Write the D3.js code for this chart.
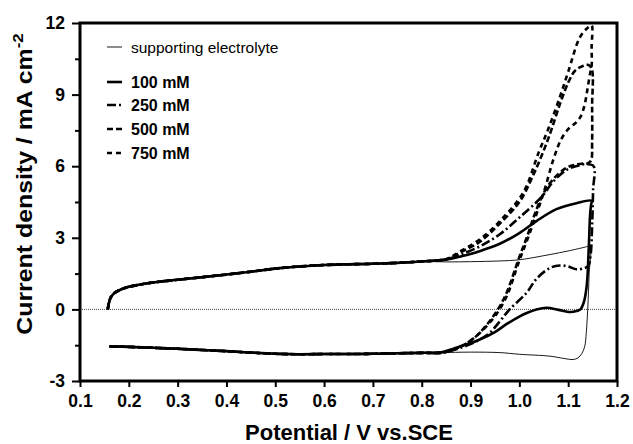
<!DOCTYPE html>
<html>
<head>
<meta charset="utf-8">
<script src="https://cdn.jsdelivr.net/npm/d3@7"></script>
<style>
  html, body { margin: 0; padding: 0; background: #fff; }
  svg { display: block; }
  text { font-family: Arial, "Liberation Sans", Helvetica, sans-serif; fill: #000; }
</style>
</head>
<body>
<svg id="chart" width="633" height="444"></svg>
<script>
// ---------------- DATA ----------------
const xTicks = [0.1, 0.2, 0.3, 0.4, 0.5, 0.6, 0.7, 0.8, 0.9, 1.0, 1.1, 1.2];
const yTicks = [-3, 0, 3, 6, 9, 12];
const yMinorTicks = [-1.5, 1.5, 4.5, 7.5, 10.5];
const seriesNames = ["supporting electrolyte", "100 mM", "250 mM", "500 mM", "750 mM"];

// common anodic (forward) baseline, 0.157 -> 0.80 V
const baseFwdV = [0.157, 0.159, 0.163, 0.170, 0.180, 0.195, 0.22, 0.25, 0.30, 0.35, 0.40, 0.45, 0.50, 0.55, 0.60, 0.65, 0.70, 0.75, 0.80];
const baseFwdJ = [0.00, 0.25, 0.50, 0.68, 0.80, 0.92, 1.03, 1.13, 1.24, 1.35, 1.46, 1.58, 1.71, 1.80, 1.86, 1.89, 1.91, 1.95, 2.01];
// common cathodic (reverse) baseline, 0.80 -> 0.16 V
const baseRevV = [0.80, 0.75, 0.70, 0.65, 0.60, 0.55, 0.50, 0.45, 0.40, 0.35, 0.30, 0.25, 0.20, 0.16];
const baseRevJ = [-1.82, -1.84, -1.86, -1.87, -1.87, -1.88, -1.86, -1.81, -1.75, -1.70, -1.65, -1.61, -1.57, -1.55];

// supporting electrolyte
const seFwdV = [0.85, 0.90, 0.96, 1.00, 1.063, 1.10, 1.138, 1.145];
const seFwdJ = [1.99, 2.00, 2.03, 2.08, 2.30, 2.45, 2.63, 2.68];
const seRevV = [1.143, 1.140, 1.137, 1.134, 1.128, 1.120, 1.110, 1.090, 1.063, 1.00, 0.96, 0.90, 0.84];
const seRevJ = [1.50, 0.00, -1.00, -1.54, -1.85, -2.03, -2.10, -2.05, -1.96, -1.88, -1.81, -1.79, -1.81];

// 100 mM
const c100FwdV = [0.85, 0.88, 0.90, 0.92, 0.96, 1.00, 1.035, 1.076, 1.117, 1.148];
const c100FwdJ = [2.09, 2.22, 2.32, 2.45, 2.75, 3.20, 3.70, 4.20, 4.45, 4.55];
const c100RevV = [1.147, 1.145, 1.142, 1.138, 1.132, 1.125, 1.117, 1.104, 1.08, 1.056, 1.035, 1.015, 1.00, 0.975, 0.95, 0.92, 0.90, 0.878, 0.86, 0.84];
const c100RevJ = [4.40, 4.00, 2.50, 1.00, 0.30, 0.00, -0.07, -0.11, -0.02, 0.07, 0.00, -0.15, -0.30, -0.60, -0.95, -1.25, -1.42, -1.55, -1.68, -1.80];

// 250 mM
const c250FwdV = [0.85, 0.88, 0.92, 0.96, 1.00, 1.045, 1.069, 1.097, 1.12, 1.135, 1.152];
const c250FwdJ = [2.10, 2.30, 2.65, 3.15, 3.85, 4.70, 5.35, 5.85, 6.02, 6.08, 6.00];
const c250RevV = [1.151, 1.149, 1.146, 1.141, 1.131, 1.117, 1.10, 1.083, 1.063, 1.035, 1.015, 0.98, 0.96, 0.94, 0.92, 0.90, 0.878, 0.86, 0.84];
const c250RevJ = [5.00, 3.50, 2.30, 1.82, 1.72, 1.68, 1.80, 1.84, 1.74, 1.28, 0.70, 0.00, -0.50, -0.97, -1.25, -1.45, -1.62, -1.73, -1.82];

// 500 mM
const c500FwdV = [0.85, 0.88, 0.92, 0.96, 1.00, 1.03, 1.06, 1.083, 1.10, 1.114, 1.13, 1.14, 1.148];
const c500FwdJ = [2.10, 2.40, 2.85, 3.60, 4.50, 5.70, 7.20, 8.60, 9.50, 10.00, 10.20, 10.25, 10.10];
const c500RevV = [1.149, 1.149, 1.147, 1.140, 1.134, 1.117, 1.097, 1.069, 1.048, 1.03, 1.015, 1.00, 0.974, 0.956, 0.935, 0.913, 0.89, 0.87, 0.845];
const c500RevJ = [8.50, 7.00, 6.25, 6.12, 6.12, 6.07, 5.94, 5.45, 4.80, 3.90, 3.00, 2.20, 0.70, 0.00, -0.60, -1.10, -1.45, -1.65, -1.80];

// 750 mM
const c750FwdV = [0.85, 0.88, 0.92, 0.96, 1.008, 1.04, 1.06, 1.083, 1.10, 1.124, 1.14, 1.148];
const c750FwdJ = [2.10, 2.45, 2.95, 3.70, 4.90, 6.60, 7.60, 8.90, 9.95, 11.40, 11.80, 11.90];
const c750RevV = [1.148, 1.148, 1.145, 1.140, 1.134, 1.126, 1.117, 1.10, 1.085, 1.07, 1.05, 1.03, 1.015, 1.00, 0.974, 0.953, 0.935, 0.913, 0.89, 0.87, 0.845];
const c750RevJ = [11.00, 10.20, 9.90, 9.30, 8.60, 8.10, 7.85, 7.55, 7.10, 6.30, 4.90, 3.70, 2.85, 2.05, 0.55, -0.20, -0.65, -1.10, -1.45, -1.65, -1.80];

// ---------------- BUILD ----------------
function loop(fV, fJ, rV, rJ) {
  const pts = [];
  baseFwdV.forEach((v, i) => pts.push([v, baseFwdJ[i]]));
  fV.forEach((v, i) => pts.push([v, fJ[i]]));
  rV.forEach((v, i) => pts.push([v, rJ[i]]));
  baseRevV.forEach((v, i) => pts.push([v, baseRevJ[i]]));
  return pts;
}

const series = [
  { name: seriesNames[0], pts: loop(seFwdV, seFwdJ, seRevV, seRevJ), w: 0.9, dash: null },
  { name: seriesNames[1], pts: loop(c100FwdV, c100FwdJ, c100RevV, c100RevJ), w: 2.6, dash: null },
  { name: seriesNames[2], pts: loop(c250FwdV, c250FwdJ, c250RevV, c250RevJ), w: 2.6, dash: "9,3,2,3" },
  { name: seriesNames[3], pts: loop(c500FwdV, c500FwdJ, c500RevV, c500RevJ), w: 2.6, dash: "6,3" },
  { name: seriesNames[4], pts: loop(c750FwdV, c750FwdJ, c750RevV, c750RevJ), w: 2.6, dash: "5,4" }
];

const svg = d3.select("#chart");
const X0 = 80, X1 = 617, Y0 = 23, Y1 = 381;
const x = d3.scaleLinear().domain([0.1, 1.2]).range([X0, X1]);
const y = d3.scaleLinear().domain([-3, 12]).range([Y1, Y0]);

// zero line
svg.append("line")
  .attr("x1", X0).attr("x2", X1).attr("y1", y(0)).attr("y2", y(0))
  .attr("stroke", "#444").attr("stroke-width", 1).attr("stroke-dasharray", "1,1");

// curves
const line = d3.line().x(d => x(d[0])).y(d => y(d[1])).curve(d3.curveCatmullRom.alpha(0.5));
svg.append("g").selectAll("path").data(series).join("path")
  .attr("d", d => line(d.pts))
  .attr("fill", "none")
  .attr("stroke", "#000")
  .attr("stroke-width", d => d.w)
  .attr("stroke-dasharray", d => d.dash)
  .attr("stroke-linejoin", "round");

// axes
const xAxis = svg.append("g").attr("transform", `translate(0,${Y1})`)
  .call(d3.axisBottom(x).tickValues(xTicks).tickFormat(d => d.toFixed(1)).tickSize(6).tickPadding(8));
const yAxis = svg.append("g").attr("transform", `translate(${X0},0)`)
  .call(d3.axisLeft(y).tickValues(yTicks).tickFormat(d => String(d)).tickSize(8).tickPadding(7));
const yMinor = svg.append("g").attr("transform", `translate(${X0},0)`)
  .call(d3.axisLeft(y).tickValues(yMinorTicks).tickFormat("").tickSize(5));
[xAxis, yAxis, yMinor].forEach(g => {
  g.select(".domain").remove();
  g.selectAll(".tick line").attr("stroke", "#000").attr("stroke-width", 2);
  g.selectAll(".tick text").attr("font-size", 17.5).attr("font-weight", "bold")
    .attr("font-family", "Arial, 'Liberation Sans', sans-serif").attr("fill", "#000");
});

// frame
svg.append("rect").attr("x", X0).attr("y", Y0).attr("width", X1 - X0).attr("height", Y1 - Y0)
  .attr("fill", "none").attr("stroke", "#000").attr("stroke-width", 3);

// axis titles
svg.append("text").attr("x", 349).attr("y", 440).attr("text-anchor", "middle")
  .attr("font-size", 22).attr("font-weight", "bold").text("Potential / V vs.SCE");
const yt = svg.append("text").attr("transform", "translate(32,184) rotate(-90) scale(1.13,1)")
  .attr("text-anchor", "middle").attr("font-size", 22).attr("font-weight", "bold");
yt.append("tspan").text("Current density / mA cm");
yt.append("tspan").attr("dy", -9).attr("font-size", 15).text("-2");

// legend
const legY = [47, 82, 105, 129, 153];
const lg = svg.append("g").selectAll("g").data(series).join("g")
  .attr("transform", (d, i) => `translate(0,${legY[i]})`);
lg.append("line").attr("x1", 107).attr("x2", 122).attr("y1", 0).attr("y2", 0)
  .attr("stroke", "#000").attr("stroke-width", d => d.w).attr("stroke-dasharray", d => d.dash);
lg.append("text").attr("x", 131).attr("dy", "0.36em")
  .attr("font-size", (d, i) => i === 0 ? 15.5 : 16)
  .attr("font-weight", (d, i) => i === 0 ? "normal" : "bold")
  .text(d => d.name);
</script>
</body>
</html>
